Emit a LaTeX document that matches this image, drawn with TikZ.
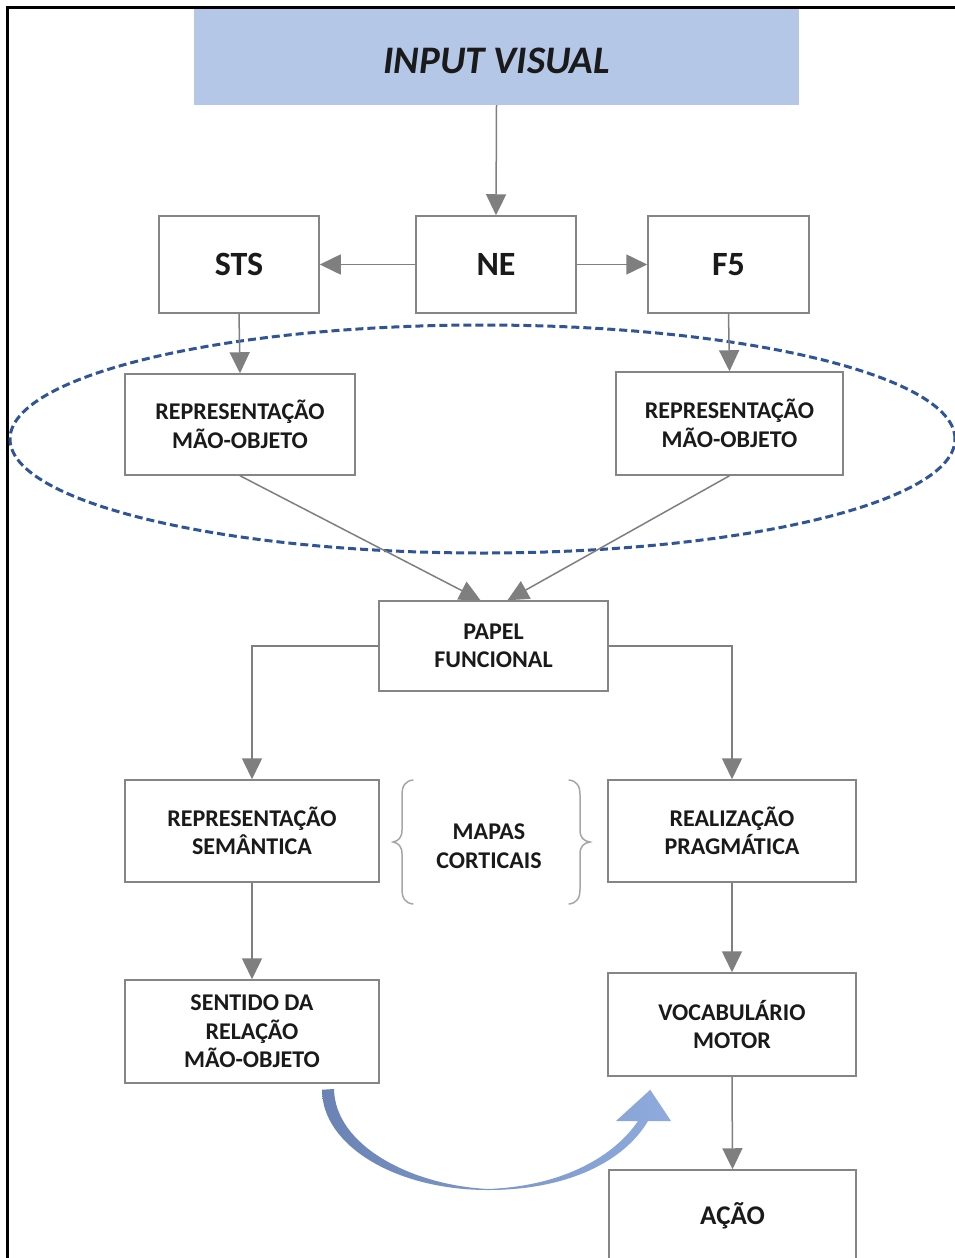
\documentclass[tikz,border=0pt]{standalone}
\usepackage{fontspec}
\setmainfont{Carlito}
\usetikzlibrary{arrows.meta,calc}
\definecolor{boxgray}{HTML}{858585}
\definecolor{arrgray}{HTML}{7F7F7F}
\definecolor{inputblue}{HTML}{B4C7E7}
\definecolor{ringblue}{HTML}{2F5597}
\definecolor{bracegray}{HTML}{A6A6A6}
\definecolor{curvedark}{HTML}{6A83B4}
\definecolor{curvelight}{HTML}{8FABDD}
\definecolor{ink}{HTML}{1A1A1A}
\begin{document}
\begin{tikzpicture}[x=1pt,y=-1pt,
  box/.style={draw=boxgray, line width=1.5pt, fill=white, inner sep=0pt,
    align=center, text=ink, font=\fontsize{24}{28.5}\selectfont\bfseries},
  bigbox/.style={box, font=\fontsize{34}{40}\selectfont\bfseries},
  flow/.style={draw=arrgray, line width=1.5pt, -{Triangle[length=21pt,width=20pt]}},
  bracket/.style={draw=bracegray, line width=1.5pt, line cap=round},
]
\useasboundingbox (0,0) rectangle (955,1258);
\clip (0,0) rectangle (955,1258);
\fill[white] (0,0) rectangle (955,1258);

% outer frame (top and left edges)
\draw[black, line width=3pt] (7.5,1270) -- (7.5,7.5) -- (965,7.5);

% dashed ring round the two hand-object representations
\draw[ringblue, line width=3pt, dash pattern=on 8pt off 4pt]
  (482.5,439) ellipse [x radius=472.5pt, y radius=114pt];

% boxes
\node[fill=inputblue, inner sep=0pt, minimum width=605pt, minimum height=96pt]
  (input) at (496.5,57) {};
\node[text=ink, inner sep=0pt, font=\fontsize{39}{46}\selectfont\bfseries\itshape]
  at ($(input.center)+(0,4)$) {INPUT VISUAL};
\node[bigbox, minimum width=160pt, minimum height=97pt] (sts) at (239,264.5) {STS};
\node[bigbox, minimum width=160pt, minimum height=97pt] (ne) at (496,264.5) {NE};
\node[bigbox, minimum width=161pt, minimum height=97pt] (f5) at (728.5,264.5) {F5};
\node[box, minimum width=230pt, minimum height=101pt] (rep1) at (240,424.5) {REPRESENTAÇÃO\\MÃO-OBJETO};
\node[box, minimum width=227pt, minimum height=103pt] (rep2) at (729.5,423.5) {REPRESENTAÇÃO\\MÃO-OBJETO};
\node[box, minimum width=229pt, minimum height=90pt] (papel) at (493.5,646) {PAPEL\\FUNCIONAL};
\node[box, minimum width=254pt, minimum height=102pt] (sem) at (252,831) {REPRESENTAÇÃO\\SEMÂNTICA};
\node[box, minimum width=248pt, minimum height=102pt] (prag) at (732,831) {REALIZAÇÃO\\PRAGMÁTICA};
\node[box, minimum width=254pt, minimum height=103pt] (sent) at (252,1031.5) {SENTIDO DA\\RELAÇÃO\\MÃO-OBJETO};
\node[box, minimum width=248pt, minimum height=103pt] (vocab) at (732,1024.5) {VOCABULÁRIO\\MOTOR};
\node[box, minimum width=247pt, minimum height=92pt,
  font=\fontsize{27}{32}\selectfont\bfseries] (acao) at (732.5,1216) {AÇÃO};

% cortical maps label with its brackets
\node[align=center, text=ink, inner sep=0pt, font=\fontsize{24}{28.5}\selectfont\bfseries]
  (mapas) at (489,846) {MAPAS\\CORTICAIS};
\draw[bracket] (413,780) .. controls (405,781) and (402,786) .. (402,795)
  -- (402,830) .. controls (402,838) and (398,841) .. (393,842)
  .. controls (398,843) and (402,846) .. (402,854)
  -- (402,889) .. controls (402,898) and (405,903) .. (413,904);
\draw[bracket] (569,780) .. controls (577,781) and (580,786) .. (580,795)
  -- (580,830) .. controls (580,838) and (584,841) .. (590,842)
  .. controls (584,843) and (580,846) .. (580,854)
  -- (580,889) .. controls (580,898) and (577,903) .. (569,904);

% connectors
\draw[flow] (input.south) -- (ne.north);
\draw[flow] (ne.west) -- (sts.east);
\draw[flow] (ne.east) -- (f5.west);
\draw[flow] (sts.south) -- (rep1.north);
\draw[flow] (f5.south) -- (rep2.north);
\draw[flow] (rep1.south) -- ($(papel.north)+(-13,0)$);
\draw[flow] (rep2.south) -- ($(papel.north)+(14,0)$);
\draw[flow] (papel.west) -| (sem.north);
\draw[flow] (papel.east) -| (prag.north);
\draw[flow] (sem.south) -- (sent.north);
\draw[flow] (prag.south) -- (vocab.north);
\draw[flow] (vocab.south) -- (acao.north);

% shaded curved arrow from the relation meaning to the motor vocabulary
\coordinate (cstart) at ($(sent.south)+(70,6)$);
\coordinate (ctip) at ($(vocab.south west)+(43,13)$);
\shade[left color=curvedark, right color=curvelight]
  (cstart) .. controls (322,1145) and (395,1190) .. (488,1190)
  .. controls (570,1190) and (625,1160) .. (648,1121)
  -- (638,1121)
  .. controls (615,1155) and (565,1186) .. (488,1189)
  .. controls (410,1185) and (335,1145) .. (334,1089) -- cycle
  (616,1121) -- (ctip) -- (671,1121) -- cycle;
\end{tikzpicture}
\end{document}
